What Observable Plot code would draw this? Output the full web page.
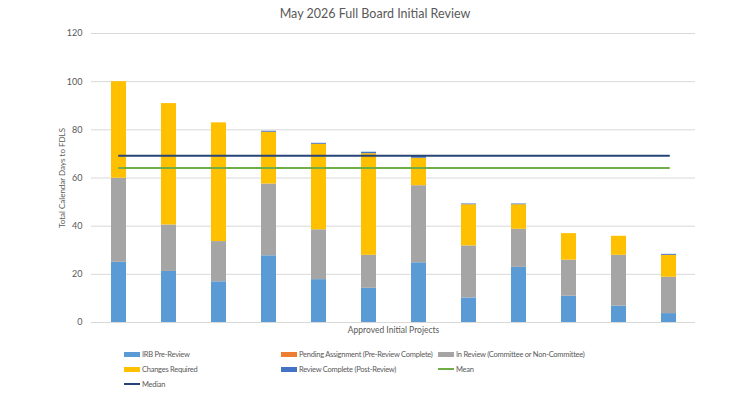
<!DOCTYPE html>
<html>
<head>
<meta charset="utf-8">
<script src="https://cdn.jsdelivr.net/npm/d3@7"></script>
<script src="https://cdn.jsdelivr.net/npm/@observablehq/plot@0.6"></script>
<style>
  html, body { margin: 0; padding: 0; background: #fff; }
  #wrap { position: relative; width: 750px; height: 400px; font-family: Lato, "Open Sans", sans-serif; color: #595959; }
  #title { position: absolute; top: 6px; left: 0; width: 750px; text-align: center; font-size: 12.5px; color: #595959; }
  #chart { position: absolute; top: 0; left: 0; }
  .lg { position: absolute; font-size: 7.5px; letter-spacing: -0.25px; color: #595959; display: flex; align-items: center; white-space: nowrap; height: 10px; }
  .sw { display: inline-block; width: 16px; margin-right: 2px; }
</style>
</head>
<body>
<div id="wrap">
  <div id="chart"></div>
  <div id="title"></div>
  <div id="legend"></div>
</div>
<script>
const chartTitle = "May 2026 Full Board Initial Review";
const yLabel = "Total Calendar Days to FDLS";
const xLabel = "Approved Initial Projects";
const projects = ["P1","P2","P3","P4","P5","P6","P7","P8","P9","P10","P11","P12"];
const seriesNames = ["IRB Pre-Review","Pending Assignment (Pre-Review Complete)","In Review (Committee or Non-Committee)","Changes Required","Review Complete (Post-Review)"];
const seriesColors = ["#5B9BD5","#ED7D31","#A5A5A5","#FFC000","#4472C4"];
const irbPreReview      = [25.0, 21.2, 16.9, 27.7, 17.8, 14.2, 24.8, 10.2, 22.9, 10.9, 6.8, 3.7];
const pendingAssignment = [0, 0, 0, 0, 0, 0, 0, 0, 0, 0, 0, 0];
const inReview          = [34.9, 19.3, 16.7, 29.8, 20.7, 13.7, 32.0, 21.6, 15.8, 15.0, 21.1, 15.1];
const changesRequired   = [40.1, 50.4, 49.3, 21.5, 35.5, 42.2, 11.4, 17.1, 10.2, 11.0, 7.9, 9.1];
const reviewComplete    = [0, 0, 0, 0.4, 0.4, 0.6, 0.7, 0.3, 0.3, 0, 0, 0.4];
const meanDays = 64.2;
const medianDays = 69.2;
const yTicks = [0, 20, 40, 60, 80, 100, 120];

const seriesValues = [irbPreReview, pendingAssignment, inReview, changesRequired, reviewComplete];
const rows = [];
projects.forEach((p, i) => {
  seriesNames.forEach((s, j) => rows.push({project: p, series: s, days: seriesValues[j][i]}));
});
const meanRows = projects.map(p => ({project: p, v: meanDays}));
const medianRows = projects.map(p => ({project: p, v: medianDays}));

document.getElementById("title").textContent = chartTitle;

const plot = Plot.plot({
  width: 750,
  height: 340,
  marginTop: 33,
  marginBottom: 18,
  marginLeft: 91,
  marginRight: 55,
  style: {fontFamily: "Lato, 'Open Sans', sans-serif", fontSize: "9px", color: "#595959", background: "transparent"},
  x: {domain: projects, paddingInner: 0.7, paddingOuter: 0.35, axis: null},
  y: {domain: [0, 120], axis: null},
  color: {domain: seriesNames, range: seriesColors},
  marks: [
    Plot.gridY(yTicks, {stroke: "#D9D9D9", strokeOpacity: 1, strokeWidth: 1}),
    Plot.axisY(yTicks, {tickSize: 0, tickPadding: 9, fill: "#595959", fontSize: 9, label: null}),
    Plot.barY(rows, {x: "project", y: "days", fill: "series", order: seriesNames}),
    Plot.lineY(meanRows, {x: "project", y: "v", stroke: "#70AD47", strokeWidth: 2}),
    Plot.lineY(medianRows, {x: "project", y: "v", stroke: "#264478", strokeWidth: 2}),
    Plot.text([yLabel], {frameAnchor: "left", textAnchor: "middle", dx: -29, rotate: -90, text: d => d, fill: "#595959", fontSize: 8}),
    Plot.text([xLabel], {frameAnchor: "bottom", textAnchor: "middle", dy: 10, text: d => d, fill: "#595959", fontSize: 8.5})
  ]
});
document.getElementById("chart").appendChild(plot);

const legendItems = [
  {name: seriesNames[0], color: seriesColors[0], kind: "bar", x: 124, y: 354},
  {name: seriesNames[1], color: seriesColors[1], kind: "bar", x: 281, y: 354},
  {name: seriesNames[2], color: seriesColors[2], kind: "bar", x: 438, y: 354},
  {name: seriesNames[3], color: seriesColors[3], kind: "bar", x: 124, y: 369},
  {name: seriesNames[4], color: seriesColors[4], kind: "bar", x: 281, y: 369},
  {name: "Mean", color: "#70AD47", kind: "line", x: 438, y: 369},
  {name: "Median", color: "#264478", kind: "line", x: 124, y: 384}
];
const lg = document.getElementById("legend");
legendItems.forEach(it => {
  const d = document.createElement("div");
  d.className = "lg";
  d.style.left = it.x + "px";
  d.style.top = (it.y - 5) + "px";
  const sw = document.createElement("span");
  sw.className = "sw";
  sw.style.background = it.color;
  sw.style.height = it.kind === "bar" ? "5px" : "2px";
  d.appendChild(sw);
  d.appendChild(document.createTextNode(it.name));
  lg.appendChild(d);
});
</script>
</body>
</html>
